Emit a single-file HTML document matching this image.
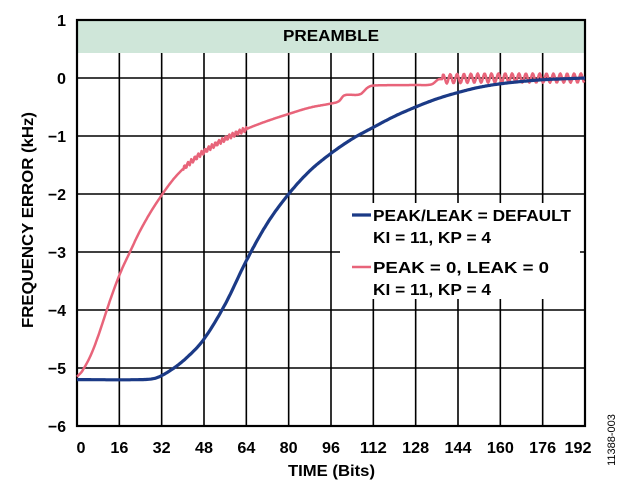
<!DOCTYPE html>
<html><head><meta charset="utf-8"><style>
html,body{margin:0;padding:0;background:#fff;}
svg{display:block;font-family:"Liberation Sans",Arial,sans-serif;font-weight:bold;}
</style></head><body>
<svg id="s" width="629" height="490" viewBox="0 0 629 490" xmlns="http://www.w3.org/2000/svg">
<rect x="77" y="20" width="508" height="33" fill="#cfe6d9"/>
<text x="331" y="41" font-size="16" text-anchor="middle" fill="#000" textLength="96" lengthAdjust="spacingAndGlyphs">PREAMBLE</text>
<g id="grid" stroke="#000" stroke-width="1.6"></g>
<rect x="77" y="20" width="508" height="406" fill="none" stroke="#000" stroke-width="2.2"/>
<g id="ylab" font-size="16" text-anchor="end" fill="#000"></g>
<g id="xlab" font-size="16" fill="#000"></g>
<path id="pink" fill="none" stroke="#e8647a" stroke-width="2.5" stroke-linejoin="round"/>
<path id="blue" fill="none" stroke="#1b3a86" stroke-width="3.2"/>
<rect x="340" y="203" width="240" height="96" fill="#fff"/>
<line x1="352" y1="215" x2="371" y2="215" stroke="#1b3a86" stroke-width="3.2"/>
<text x="373" y="221" font-size="16" textLength="198" lengthAdjust="spacingAndGlyphs">PEAK/LEAK = DEFAULT</text>
<text x="373" y="243" font-size="16" textLength="118" lengthAdjust="spacingAndGlyphs">KI = 11, KP = 4</text>
<line x1="352" y1="267" x2="371" y2="267" stroke="#e8647a" stroke-width="2.6"/>
<text x="373" y="273" font-size="16" textLength="176" lengthAdjust="spacingAndGlyphs">PEAK = 0, LEAK = 0</text>
<text x="373" y="295" font-size="16" textLength="118" lengthAdjust="spacingAndGlyphs">KI = 11, KP = 4</text>
<text x="288" y="476" font-size="16" textLength="87" lengthAdjust="spacingAndGlyphs">TIME (Bits)</text>
<text transform="translate(33,220) rotate(-90)" font-size="16" text-anchor="middle" textLength="216" lengthAdjust="spacingAndGlyphs">FREQUENCY ERROR (kHz)</text>
<text transform="translate(615,440) rotate(-90)" font-size="11" font-weight="normal" text-anchor="middle">11388-003</text>
</svg>
<script>
var X=function(b){return 77+b*508/192;},Y=function(v){return 78-v*58;};
var g=document.getElementById('grid'),yl=document.getElementById('ylab'),xl=document.getElementById('xlab'),h='',t='';
for(var i=1;i<12;i++){var x=77+i*508/12;h+='<line x1="'+x+'" y1="53" x2="'+x+'" y2="426"/>';}
for(var v=0;v>=-5;v--){h+='<line x1="77" y1="'+Y(v)+'" x2="585" y2="'+Y(v)+'"/>';}
g.innerHTML=h;
for(var v=1;v>=-6;v--){var s=(v<0?'\u2212'+(-v):''+v);t+='<text x="66" y="'+(Y(v)+6)+'" textLength="'+(v<0?18:9)+'" lengthAdjust="spacingAndGlyphs">'+s+'</text>';}
yl.innerHTML=t;t='';
for(var i=0;i<=12;i++){var s=''+(i*16),w=s.length*9,xx=77+i*508/12;if(i==0)xx=81;if(i==12)xx=578;t+='<text x="'+(xx-w/2)+'" y="453" textLength="'+w+'" lengthAdjust="spacingAndGlyphs">'+s+'</text>';}
xl.innerHTML=t;
function interp(p,b){for(var i=0;i<p.length-1;i++){if(b<=p[i+1][0]){var p0=p[Math.max(i-1,0)],p1=p[i],p2=p[i+1],p3=p[Math.min(i+2,p.length-1)];var f=(b-p1[0])/(p2[0]-p1[0]);
var m1=(p2[1]-p0[1])/(p2[0]-p0[0]||1)*(p2[0]-p1[0]),m2=(p3[1]-p1[1])/(p3[0]-p1[0]||1)*(p2[0]-p1[0]);
var f2=f*f,f3=f2*f;return (2*f3-3*f2+1)*p1[1]+(f3-2*f2+f)*m1+(-2*f3+3*f2)*p2[1]+(f3-f2)*m2;}}return p[p.length-1][1];}
var bp=[[0,-5.2],[24,-5.2],[30,-5.17],[36,-5.02],[42,-4.8],[48,-4.5],[56,-3.9],[64,-3.15],[72,-2.5],[80,-2.0],[88,-1.6],[96,-1.3],[104,-1.05],[112,-0.85],[120,-0.66],[128,-0.5],[136,-0.36],[144,-0.25],[152,-0.16],[160,-0.1],[168,-0.06],[176,-0.03],[192,0]];
var pp=[[0,-5.15],[2,-5.05],[5,-4.8],[8,-4.45],[12,-3.9],[16,-3.4],[20,-3.0],[24,-2.62],[28,-2.3],[32,-2.02],[36,-1.77],[40,-1.57],[44,-1.41],[48,-1.27],[56,-1.05],[64,-0.88],[72,-0.74],[80,-0.62],[88,-0.51],[96,-0.44],[99,-0.4],[101,-0.3],[107,-0.28],[110,-0.16],[112,-0.13],[128,-0.12],[134,-0.11],[137,-0.02],[192,0]];
var d='';for(var b=0;b<=192;b+=0.5){d+=(b?'L':'M')+X(b).toFixed(1)+' '+Y(interp(bp,b)).toFixed(1);}
document.getElementById('blue').setAttribute('d',d);
d='';for(var b=0;b<=192;b+=0.3){var v=interp(pp,b);if(b>=138)v+=0.08*Math.sin(b*2*Math.PI/2.6);else if(b>40&&b<64)v+=0.04*Math.sin(b*2*Math.PI/1.3);d+=(b?'L':'M')+X(b).toFixed(1)+' '+Y(v).toFixed(1);}
document.getElementById('pink').setAttribute('d',d);
</script>
</body></html>
